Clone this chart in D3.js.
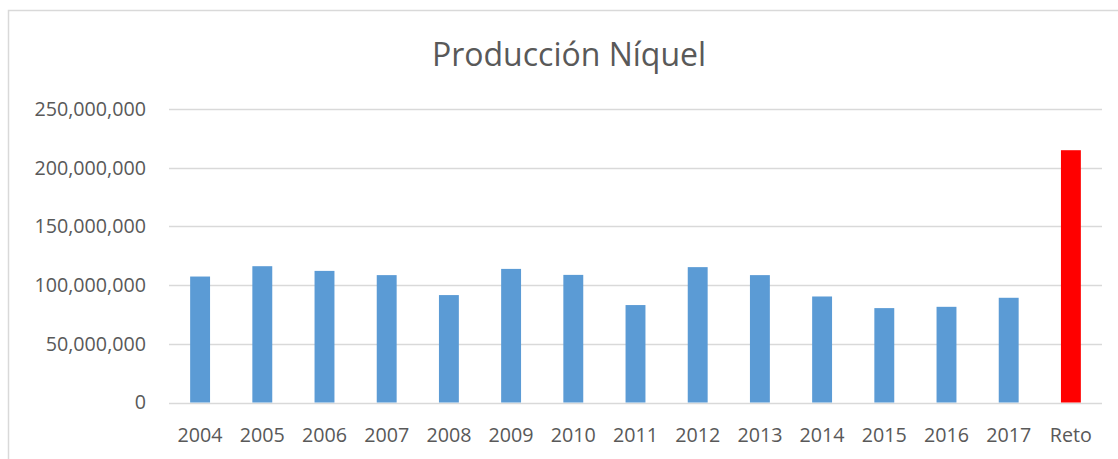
<!DOCTYPE html>
<html>
<head>
<meta charset="utf-8">
<script src="https://cdn.jsdelivr.net/npm/d3@7"></script>
<style>
  body { margin: 0; background: #fff; }
  text { font-family: "Open Sans", sans-serif; fill: #595959; }
</style>
</head>
<body>
<svg id="chart"></svg>
<script>
const categories = ["2004", "2005", "2006", "2007", "2008", "2009", "2010", "2011", "2012", "2013", "2014", "2015", "2016", "2017", "Reto"]
const produccion = [107300000, 116100000, 112100000, 108500000, 91500000, 113800000, 108700000, 83000000, 115300000, 108500000, 90300000, 80400000, 81500000, 89200000, 214900000]
const yTicks = [0, 50000000, 100000000, 150000000, 200000000, 250000000]
const titulo = "Producción Níquel"

const width = 1118
const height = 459
const margin = {left : 169, right : 16, top : 109, bottom : 56}

const svg = d3.select("#chart").attr("width", width).attr("height", height)

// marco del gráfico (solo se ven el borde izquierdo y el de arriba)
svg.append("rect")
    .attr("x", 8.5).attr("y", 10.5)
    .attr("width", width + 20).attr("height", height + 20)
    .attr("fill", "none").attr("stroke", "#d9d9d9").attr("stroke-width", 1.5)

const x_scale = d3.scaleBand().domain(categories).range([margin.left, width - margin.right]).paddingInner(0.68).paddingOuter(0.34)
const y_scale = d3.scaleLinear().domain([0, 250000000]).range([height - margin.bottom - 0.5, margin.top])

// líneas de la cuadrícula
svg.append("g")
    .selectAll("line")
    .data(yTicks)
    .join("line")
    .attr("x1", margin.left).attr("x2", width - margin.right)
    .attr("y1", d => Math.round(y_scale(d)) + 0.5)
    .attr("y2", d => Math.round(y_scale(d)) + 0.5)
    .attr("stroke", "#d9d9d9").attr("stroke-width", 1.5)

// barras
svg.append("g")
    .selectAll("rect")
    .data(categories)
    .join("rect")
    .attr("x", d => x_scale(d))
    .attr("width", x_scale.bandwidth())
    .attr("y", (d, i) => y_scale(produccion[i]))
    .attr("height", (d, i) => y_scale(0) - y_scale(produccion[i]))
    .attr("fill", d => d === "Reto" ? "#ff0000" : "#5b9bd5")

// etiquetas eje y
const fmt = d3.format(",")
svg.append("g")
    .selectAll("text")
    .data(yTicks)
    .join("text")
    .attr("x", margin.left - 23)
    .attr("y", d => y_scale(d))
    .attr("dy", "0.35em")
    .attr("text-anchor", "end")
    .style("font-size", "19.7px")
    .text(d => fmt(d))

// etiquetas eje x
svg.append("g")
    .selectAll("text")
    .data(categories)
    .join("text")
    .attr("x", d => x_scale(d) + x_scale.bandwidth() / 2)
    .attr("y", 442)
    .attr("text-anchor", "middle")
    .style("font-size", "19.7px")
    .text(d => d)

// título
svg.append("text")
    .attr("x", 569)
    .attr("y", 66)
    .attr("text-anchor", "middle")
    .style("font-size", "32px")
    .text(titulo)
</script>
</body>
</html>
